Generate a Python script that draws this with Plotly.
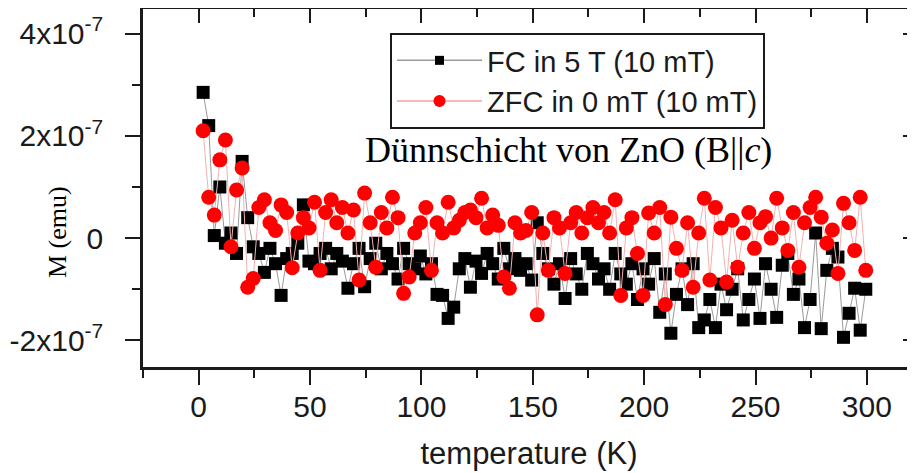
import plotly.graph_objects as go

# temperatures (K)
T = [2, 4.5, 7, 9.5, 12, 14.5, 17, 19.5, 22, 24.5,
     27, 29.5, 32, 34.5, 37, 39.5, 42, 44.5, 47, 49.5,
     52, 54.5, 57, 59.5, 62, 64.5, 67, 69.5, 72, 74.5,
     77, 79.5, 82, 84.5, 87, 89.5, 92, 94.5, 97, 99.5,
     102, 104.5, 107, 109.5, 112, 114.5, 117, 119.5, 122, 124.5,
     127, 129.5, 132, 134.5, 137, 139.5, 142, 144.5, 147, 149.5,
     152, 154.5, 157, 159.5, 162, 164.5, 167, 169.5, 172, 174.5,
     177, 179.5, 182, 184.5, 187, 189.5, 192, 194.5, 197, 199.5,
     202, 204.5, 207, 209.5, 212, 214.5, 217, 219.5, 222, 224.5,
     227, 229.5, 232, 234.5, 237, 239.5, 242, 244.5, 247, 249.5,
     252, 254.5, 257, 259.5, 262, 264.5, 267, 269.5, 272, 274.5,
     277, 279.5, 282, 284.5, 287, 289.5, 292, 294.5, 297, 299.5]

# FC in 5 T (10 mT), units of 1e-7 emu
FC = [2.85, 2.2, 0.05, 1.0, -0.1, 0.1, -0.3, 1.5, 0.4, -0.17,
      -0.3, -0.67, -0.2, -0.5, -1.12, -0.4, -0.3, -0.1, 0.65, -0.45,
      -0.5, -0.3, -0.2, -0.6, -0.3, -0.45, -0.98, -0.5, -0.2, -0.95,
      -0.4, -0.1, -0.6, -0.3, -0.5, -0.8, -0.2, -0.5, -0.6, -0.35,
      -0.7, -0.5, -1.1, -1.12, -1.57, -1.35, -0.6, -0.4, -0.96, -0.45,
      -0.69, -0.3, -0.5, -0.8, -0.2, -0.6, -0.4, -0.63, -0.5, -0.82,
      0.3, -0.3, -0.6, -0.9, -0.5, -1.18, -0.4, -0.7, -1.0, -0.3,
      -0.5, -0.8, -0.6, -1.0, -0.3, -0.7, -0.9, -0.5, -1.2, -0.6,
      -0.9, -0.4, -1.45, -0.7, -1.86, -1.1, -0.6, -1.3, -0.5, -1.75,
      -1.6, -1.2, -1.75, -0.9, -1.4, -1.0, -0.6, -1.6, -1.2, -0.8,
      -1.57, -0.5, -1.0, -1.55, -0.53, -0.3, -1.1, -0.8, -1.75, -1.2,
      0.1, -1.77, -0.63, -0.2, -0.37, -1.94, -1.47, -0.98, -1.8, -1.0]

# ZFC in 0 mT (10 mT), units of 1e-7 emu
ZFC = [2.1, 0.8, 0.45, 1.53, 1.92, -0.17, 0.94, 1.37, -0.96, -0.79,
       0.6, 0.75, 0.3, 0.15, 0.65, 0.5, -0.58, 0.1, 0.4, 0.2,
       0.7, -0.63, 0.5, 0.75, 0.3, 0.6, 0.1, 0.55, -0.82, 0.88,
       0.3, -0.57, 0.5, 0.2, 0.8, 0.4, -1.08, -0.76, 0.1, 0.3,
       0.6, -0.63, 0.3, 0.1, 0.7, 0.2, 0.35, 0.5, 0.55, 0.4,
       0.78, 0.2, 0.45, 0.25, -0.76, -0.98, 0.3, 0.1, 0.15, 0.5,
       -1.5, 0.1, -0.63, 0.4, 0.2, -0.69, 0.3, 0.5, 0.1, 0.4,
       0.6, 0.3, 0.5, 0.1, 0.75, -1.12, 0.2, 0.4, -0.3, -1.12,
       0.49, 0.1, 0.6, -1.3, 0.41, -0.2, -0.63, 0.3, -0.96, 0.1,
       0.78, -0.82, 0.6, 0.2, -0.86, 0.35, -0.57, 0.1, 0.5, -0.2,
       0.3, 0.42, 0.0, 0.78, 0.2, -0.24, 0.5, -0.57, 0.3, 0.6,
       0.8, 0.41, -0.1, 0.16, -0.69, 0.68, 0.3, -0.24, 0.8, -0.63]

SCALE = 1e-7
Y_TICKS = [-2e-7, 0, 2e-7, 4e-7]
Y_TICKTEXT = ["-2x10<sup>-7</sup>", "0", "2x10<sup>-7</sup>", "4x10<sup>-7</sup>"]
Y_MINOR = [-1e-7, 1e-7, 3e-7]
X_TICKS = [0, 50, 100, 150, 200, 250, 300]
X_MINOR = [-25, 25, 75, 125, 175, 225, 275]

XR = [-25.0, 321.6]
YR = [-2.52e-7, 4.48e-7]

fc_y = [v * SCALE for v in FC]
zfc_y = [v * SCALE for v in ZFC]

INK = "#1a1a1a"
SANS = "Liberation Sans, Arial, sans-serif"
SERIF = "Liberation Serif, Times New Roman, serif"

# page body has an 8px margin: the figure is sized so it ends at the window edge
W, H = 907, 465
ML, MT, MB, MR = 135, 1, 106, 0
PW, PH = W - ML - MR, H - MT - MB


def px_x(px):  # window pixel -> paper x
    return (px - 8 - ML) / PW


def px_y(py):  # window pixel -> paper y
    return (8 + H - MB - py) / PH


fig = go.Figure()
fig.add_trace(go.Scatter(x=T, y=fc_y, mode="lines+markers", showlegend=False,
                         line=dict(color="#9a9a9a", width=1),
                         marker=dict(symbol="square", size=13, color="#000000")))
fig.add_trace(go.Scatter(x=T, y=zfc_y, mode="lines+markers", showlegend=False,
                         line=dict(color="#f4b0b0", width=1),
                         marker=dict(symbol="circle", size=15, color="#ff0000")))
# legend entries
fig.add_trace(go.Scatter(x=[None], y=[None], mode="lines+markers", name="FC in 5 T (10 mT)",
                         line=dict(color="#9a9a9a", width=1.5),
                         marker=dict(symbol="square", size=9, color="#000000")))
fig.add_trace(go.Scatter(x=[None], y=[None], mode="lines+markers", name="ZFC in 0 mT (10 mT)",
                         line=dict(color="#f2a0a0", width=1.5),
                         marker=dict(symbol="circle", size=12, color="#ff0000")))
# helper trace for mirrored axes
fig.add_trace(go.Scatter(x=[None], y=[None], xaxis="x2", yaxis="y2", showlegend=False,
                         hoverinfo="skip"))

common = dict(showgrid=False, zeroline=False, showline=True, linewidth=2.5, linecolor=INK,
              tickwidth=2, tickcolor=INK, automargin=False)

fig.update_layout(
    width=W, height=H,
    margin=dict(l=ML, r=MR, t=MT, b=MB, autoexpand=False),
    paper_bgcolor="white", plot_bgcolor="white",
    xaxis=dict(range=XR, tickmode="array", tickvals=X_TICKS, ticktext=[str(v) for v in X_TICKS],
               ticks="outside", ticklen=15, **common,
               tickfont=dict(family=SANS, size=30, color=INK), ticklabelstandoff=-4,
               minor=dict(tickmode="array", tickvals=X_MINOR, ticks="outside", ticklen=8,
                          tickwidth=2, tickcolor=INK),
               title=dict(text="temperature (K)", standoff=21,
                          font=dict(family=SANS, size=31, color=INK))),
    yaxis=dict(range=YR, tickmode="array", tickvals=Y_TICKS, ticktext=Y_TICKTEXT,
               ticks="outside", ticklen=15, **common,
               tickfont=dict(family=SANS, size=30, color=INK), ticklabelstandoff=16,
               minor=dict(tickmode="array", tickvals=Y_MINOR, ticks="outside", ticklen=8,
                          tickwidth=2, tickcolor=INK)),
    xaxis2=dict(range=XR, overlaying="x", side="top", anchor="y", tickmode="array", tickvals=X_TICKS,
                ticks="inside", ticklen=14, showticklabels=False, **common,
                minor=dict(tickmode="array", tickvals=X_MINOR, ticks="inside", ticklen=8,
                           tickwidth=2, tickcolor=INK)),
    yaxis2=dict(range=YR, overlaying="y", side="right", anchor="x", tickmode="array", tickvals=Y_TICKS,
                ticks="inside", ticklen=12, showticklabels=False, **common,
                minor=dict(tickmode="array", tickvals=Y_MINOR, ticks="inside", ticklen=7,
                           tickwidth=2, tickcolor=INK)),
    legend=dict(x=px_x(390), y=px_y(33), xanchor="left", yanchor="top",
                bgcolor="white", bordercolor=INK, borderwidth=2,
                font=dict(family=SANS, size=29, color=INK),
                itemwidth=85, tracegroupgap=0),
    annotations=[
        dict(text="Dünnschicht von ZnO (B||<i>c</i>)", xref="paper", yref="paper",
             x=px_x(363), y=px_y(150), xanchor="left", yanchor="middle",
             showarrow=False,
             font=dict(family=SERIF, size=36, color="#000000")),
        dict(text="M (emu)", xref="paper", yref="paper", x=px_x(57), y=px_y(232),
             xanchor="center", yanchor="middle", textangle=-90, showarrow=False,
             font=dict(family=SERIF, size=26, color="#000000")),
    ],
)

fig.write_html("out.html")
